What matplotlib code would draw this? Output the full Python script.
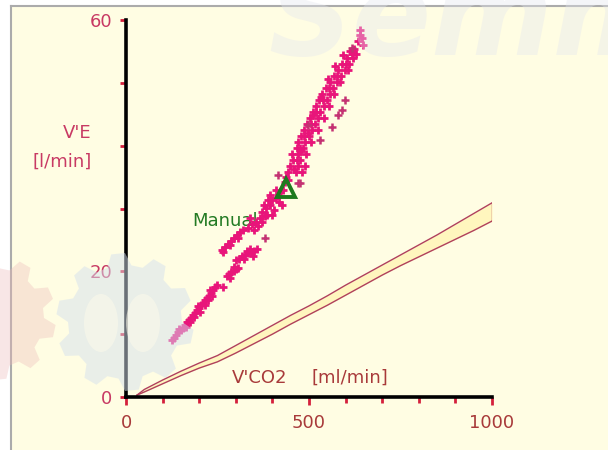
import numpy as np
import matplotlib
matplotlib.use("Agg")
import matplotlib.pyplot as plt
from matplotlib.patches import Polygon, Ellipse, Rectangle

# V'CO2 [ml/min] / V'E [l/min] breath points
ve_co2 = [126, 131, 137, 142, 150, 156, 161, 167, 172, 178, 183, 189, 194, 199, 205, 210,
          216, 221, 227, 232, 238, 243, 235, 202, 175, 164, 216, 249, 197, 224, 146, 186, 230,
          265, 276, 282, 288, 294, 300, 285, 296, 305, 300, 310, 318, 326, 334, 342, 350, 358,
          322, 338, 346, 330,
          262, 270, 279, 287, 295, 303, 311, 320, 306, 284, 266,
          333, 344, 355, 366, 380, 339, 361, 350, 372,
          372, 382, 393, 399, 410, 415, 421, 429, 388, 404, 426, 434, 443, 410, 393, 377, 418,
          400, 385, 436,
          442, 464, 481, 448, 470, 489, 456, 475, 466, 453, 470, 492, 467, 484, 476, 470, 489,
          505, 486, 500, 478, 486, 508, 524, 494, 516, 505, 503, 524, 541, 511, 530, 520, 519,
          541, 555, 527, 549, 538, 535, 557, 568, 546, 565, 556, 557, 576, 585, 568, 587, 577,
          579, 598, 607, 590, 609, 600, 604, 620, 617, 628, 623,
          458, 478, 497, 512, 532, 551, 572, 594, 613,
          639, 639, 645, 647, 634]
ve_lmin = [9.1, 9.4, 9.9, 10.3, 10.7, 11.0, 11.5, 11.9, 12.3, 12.6, 13.0, 13.4, 13.8, 14.2, 14.6, 15.0,
           15.4, 15.8, 16.1, 16.6, 17.0, 17.5, 16.1, 13.5, 11.9, 11.1, 14.6, 17.8, 14.5, 15.4, 10.9, 12.8, 17.0,
           17.5, 19.2, 19.5, 19.9, 20.1, 20.4, 19.0, 20.7, 20.6, 21.8, 22.0, 22.4, 22.6, 22.9, 23.1, 23.3, 23.5,
           21.9, 23.6, 22.5, 23.2,
           23.4, 23.9, 24.4, 24.8, 25.3, 25.8, 26.3, 26.6, 25.3, 24.2, 23.0,
           26.9, 27.5, 27.9, 28.5, 28.8, 28.5, 27.2, 26.6, 27.9,
           29.5, 30.1, 30.6, 31.4, 31.7, 32.2, 32.6, 33.0, 31.4, 29.8, 30.6, 34.2, 34.5, 33.0, 32.2, 30.6, 31.0,
           29.0, 29.0, 35.0,
           35.8, 35.8, 35.8, 36.8, 36.8, 36.8, 37.7, 37.7, 37.7, 38.7, 38.7, 38.7, 39.6, 39.6, 39.6, 40.6, 40.6,
           40.6, 41.6, 41.6, 41.6, 42.5, 42.5, 42.5, 43.5, 43.5, 43.5, 44.4, 44.4, 44.4, 45.4, 45.4, 45.4, 46.3,
           46.3, 46.3, 47.3, 47.3, 47.3, 48.2, 48.2, 48.2, 49.2, 49.2, 49.2, 50.1, 50.1, 50.1, 51.1, 51.1, 51.1,
           52.1, 52.1, 52.1, 53.0, 53.0, 53.0, 54.0, 54.0, 54.6, 54.6, 55.4,
           36.3, 39.1, 42.0, 44.9, 47.7, 50.6, 52.6, 54.5, 55.0,
           58.4, 57.6, 57.2, 56.0, 56.7]

# scattered breaths off the main trace
odd_co2 = [579, 563, 475, 617, 598, 590, 530, 380, 470, 497, 415]
odd_lmin = [44.9, 43.0, 34.1, 55.6, 47.3, 45.7, 40.9, 25.3, 34.1, 43.3, 35.3]

# reference envelope
env_co2 = [30, 50, 100, 150, 200, 250, 300, 350, 400, 450, 500, 550, 600, 650, 700,
           750, 800, 850, 900, 950, 1000]
env_upper = [0.3, 1.2, 2.7, 4.1, 5.4, 6.6, 8.2, 9.8, 11.4, 13.0, 14.5, 16.1, 17.8, 19.4, 21.0,
             22.6, 24.2, 25.8, 27.5, 29.2, 30.9]
env_lower = [0.3, 0.8, 2.1, 3.4, 4.6, 5.6, 7.0, 8.5, 10.0, 11.6, 13.1, 14.6, 16.2, 17.8, 19.4,
             20.9, 22.3, 23.7, 25.1, 26.5, 28.0]

manual_co2 = 437
manual_lmin = 33.3

x_major = [0, 500, 1000]
x_minor = [100, 200, 300, 400, 600, 700, 800, 900]
y_major = [0, 20, 60]
y_minor = [10, 30, 40, 50]

bg = '#FFFDE3'
pink = '#E8157A'
dark_pink = '#C43272'
tick_red = '#D4203C'

fig = plt.figure(figsize=(6.08, 4.5), dpi=100, facecolor='white')

# panel background and grey frame
fig.patches.append(Rectangle((11 / 608, 0), 1, 444 / 450, transform=fig.transFigure,
                             facecolor=bg, edgecolor='none', zorder=-2))
fig.lines.append(plt.Line2D([11 / 608, 11 / 608], [0, 444 / 450], transform=fig.transFigure,
                            color='#ABABAB', lw=1.5, zorder=-1))
fig.lines.append(plt.Line2D([11 / 608, 1], [444 / 450, 444 / 450], transform=fig.transFigure,
                            color='#ABABAB', lw=1.5, zorder=-1))

ax = fig.add_axes([126 / 608, 53 / 450, 366 / 608, 377 / 450])
ax.patch.set_visible(False)
ax.set_xlim(0, 1000)
ax.set_ylim(0, 60)

# envelope band
ax.fill_between(env_co2, env_lower, env_upper, color='#FFF6BE', zorder=1, lw=0)
ax.plot(env_co2, env_upper, color='#B0405C', lw=1.0, zorder=2)
ax.plot(env_co2, env_lower, color='#B0405C', lw=1.0, zorder=2)
ax.plot([env_co2[-1], env_co2[-1]], [env_lower[-1], env_upper[-1]], color='#B0405C', lw=1.0, zorder=2)

ax.text(180, 28.0, 'Manual', color='#237A23', fontsize=13, ha='left', va='center', zorder=2)

ax.scatter(ve_co2, ve_lmin, marker='+', s=40, linewidths=2.0, color=pink, zorder=3, clip_on=False)
ax.scatter(odd_co2, odd_lmin, marker='+', s=34, linewidths=1.8, color=dark_pink, zorder=3, clip_on=False)
ax.plot([manual_co2], [manual_lmin], marker='^', ms=13, mew=2.8, mfc='none', mec='#1E7A1E',
        ls='none', zorder=4)

for side in ['top', 'right']:
    ax.spines[side].set_visible(False)
for side in ['left', 'bottom']:
    ax.spines[side].set_linewidth(2.6)
    ax.spines[side].set_color('black')

ax.set_xticks(x_major)
ax.set_xticks(x_minor, minor=True)
ax.set_yticks(y_major)
ax.set_yticks(y_minor, minor=True)
ax.tick_params(axis='x', which='major', length=6, width=2, color=tick_red,
               labelcolor='#A83A3A', labelsize=13, pad=6)
ax.tick_params(axis='x', which='minor', length=4, width=2, color=tick_red)
ax.tick_params(axis='y', which='both', length=4, width=2, color=tick_red,
               labelcolor='#C83A64', labelsize=13, pad=6)

ax.text(-93, 42.0, "V'E", color='#C83A64', fontsize=13, ha='right', va='center', clip_on=False)
ax.text(-93, 37.4, "[l/min]", color='#C83A64', fontsize=13, ha='right', va='center', clip_on=False)
ax.text(290, 3.0, "V'CO2", color='#A83A3A', fontsize=13, ha='left', va='center')
ax.text(508, 3.0, "[ml/min]", color='#A83A3A', fontsize=13, ha='left', va='center')

# logo watermark laid over the panel, in pixel coordinates
over = fig.add_axes([0, 0, 1, 1], zorder=10)
over.set_xlim(0, 608)
over.set_ylim(450, 0)
over.axis('off')
over.patch.set_visible(False)


def gear(cx, cy, r_out, r_in, n):
    pts = []
    step = 2 * np.pi / n
    for k in range(n):
        a = k * step
        for frac, r in [(0.0, r_in), (0.18, r_out), (0.5, r_out), (0.68, r_in)]:
            ang = a + frac * step
            pts.append((cx + r * np.cos(ang), cy + r * np.sin(ang)))
    return pts


over.add_patch(Polygon(gear(-6, 318, 62, 50, 10), closed=True, facecolor='#EDB9B9',
                       edgecolor='none', alpha=0.35))
over.add_patch(Polygon(gear(125, 322, 69, 57, 10), closed=True, facecolor='#D5E1EE',
                       edgecolor='none', alpha=0.5))
over.add_patch(Ellipse((101, 323), 34, 58, facecolor='#FCFAEA', edgecolor='none', alpha=0.55))
over.add_patch(Ellipse((143, 323), 34, 58, facecolor='#FCFAEA', edgecolor='none', alpha=0.55))
over.text(268, 55, 'Semm', fontsize=84, fontstyle='italic', fontweight='semibold',
          color='#E4E6EE', alpha=0.38, ha='left', va='baseline')

fig.savefig('out.png', dpi=100, facecolor='white')
